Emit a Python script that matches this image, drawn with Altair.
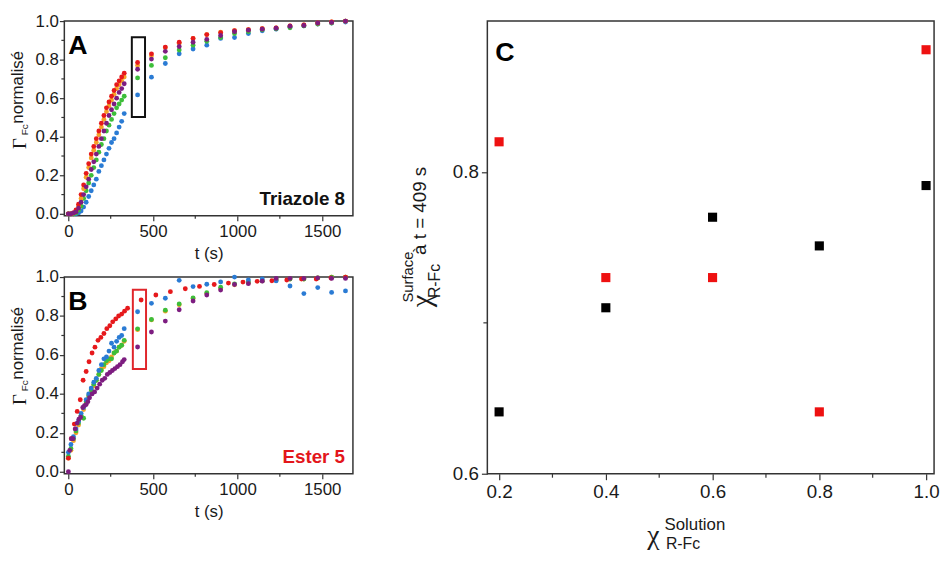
import altair as alt
import pandas as pd

FONT = "Liberation Sans"
SERIF = "Liberation Serif"
INK = "#1a1a1a"
TICK = "#333333"

# ---------------- series definitions ----------------
SERIES = ["blue", "green", "orange", "red", "purple"]
COLORS = ["#2a7bd4", "#3dbe3a", "#f6a228", "#e6191c", "#7d1d80"]
SIZES = [24, 24, 24, 24, 52]

# sampling times (s)
t_early = [0, 15, 30, 45, 60, 75, 90, 105, 120, 135, 150, 165, 180, 195, 210, 225, 240, 255, 270, 285, 300, 315, 330]
t_late = [409, 491, 573, 655, 737, 818, 900, 982, 1064, 1146, 1228, 1310, 1392, 1474, 1556, 1638]

# ---- Panel A : Triazole 8 ----
A_red_e = [0.0, 0.0, 0.005, 0.02, 0.05, 0.10, 0.15, 0.21, 0.26, 0.31, 0.35, 0.39, 0.43, 0.47, 0.51, 0.55, 0.58, 0.61, 0.64, 0.67, 0.69, 0.71, 0.73]
A_orange_e = [0.0, 0.0, 0.005, 0.015, 0.04, 0.08, 0.13, 0.19, 0.24, 0.29, 0.33, 0.37, 0.41, 0.45, 0.49, 0.53, 0.56, 0.59, 0.62, 0.65, 0.67, 0.69, 0.71]
A_purple_e = [0.0, 0.0, 0.005, 0.01, 0.03, 0.06, 0.10, 0.14, 0.18, 0.23, 0.27, 0.31, 0.35, 0.39, 0.43, 0.47, 0.51, 0.54, 0.57, 0.60, 0.63, 0.65, 0.675]
A_green_e = [0.0, 0.0, 0.0, 0.005, 0.02, 0.04, 0.08, 0.12, 0.16, 0.20, 0.24, 0.28, 0.32, 0.36, 0.39, 0.43, 0.46, 0.49, 0.52, 0.55, 0.57, 0.59, 0.61]
A_blue_e = [0.0, 0.0, 0.0, 0.0, 0.005, 0.015, 0.035, 0.06, 0.09, 0.12, 0.15, 0.18, 0.22, 0.25, 0.28, 0.31, 0.34, 0.37, 0.39, 0.42, 0.45, 0.48, 0.52]

A_red_l = [0.785, 0.83, 0.865, 0.89, 0.91, 0.93, 0.94, 0.95, 0.955, 0.96, 0.965, 0.975, 0.98, 0.99, 0.995, 1.0]
A_orange_l = [0.77, 0.82, 0.862, 0.885, 0.91, 0.93, 0.942, 0.95, 0.955, 0.96, 0.965, 0.975, 0.98, 0.99, 0.995, 1.0]
A_purple_l = [0.75, 0.803, 0.843, 0.868, 0.89, 0.905, 0.925, 0.945, 0.953, 0.958, 0.963, 0.973, 0.977, 0.99, 0.993, 1.0]
A_green_l = [0.705, 0.77, 0.81, 0.85, 0.875, 0.895, 0.915, 0.935, 0.945, 0.955, 0.96, 0.965, 0.975, 0.985, 0.99, 1.0]
A_blue_l = [0.617, 0.709, 0.78, 0.83, 0.855, 0.875, 0.91, 0.915, 0.935, 0.95, 0.958, 0.968, 0.975, 0.985, 0.99, 0.995]

# ---- Panel B : Ester 5 ----
B_red_t = [0, 17, 35, 52, 70, 87, 105, 122, 140, 157, 175, 192, 210, 227, 245, 262, 280, 297, 315, 332, 350,
           430, 517, 603, 691, 775, 862, 946, 1032, 1116, 1203, 1291, 1378, 1465, 1552, 1638]
B_red_v = [0.07, 0.17, 0.245, 0.31, 0.37, 0.47, 0.515, 0.565, 0.61, 0.64, 0.675, 0.69, 0.71, 0.735, 0.75, 0.77, 0.785, 0.80, 0.81, 0.825, 0.84,
           0.882, 0.908, 0.925, 0.94, 0.952, 0.962, 0.969, 0.974, 0.978, 0.981, 0.985, 0.99, 0.99, 0.995, 1.0]
B_purple_t = [0, 8, 18, 28, 40, 52, 62, 72, 85, 95, 105, 115, 125, 140, 155, 170, 185, 200, 215, 230, 245, 260, 275, 290, 305, 320, 330]
B_purple_e = [0.0, 0.11, 0.17, 0.17, 0.22, 0.25, 0.27, 0.28, 0.33, 0.34, 0.345, 0.36, 0.38, 0.40, 0.41, 0.43, 0.45, 0.47, 0.48, 0.50, 0.51, 0.52, 0.53, 0.54, 0.55, 0.565, 0.576]
B_blue_e = [0.10, 0.14, 0.18, 0.22, 0.26, 0.30, 0.33, 0.37, 0.40, 0.43, 0.46, 0.48, 0.52, 0.55, 0.58, 0.59, 0.62, 0.66, 0.64, 0.67, 0.69, 0.70, 0.735]
B_green_e = [0.08, 0.12, 0.17, 0.21, 0.25, 0.29, 0.275, 0.36, 0.39, 0.42, 0.45, 0.47, 0.50, 0.52, 0.55, 0.57, 0.58, 0.58, 0.61, 0.62, 0.64, 0.65, 0.675]
B_orange_e = [0.07, 0.11, 0.16, 0.20, 0.24, 0.28, 0.32, 0.35, 0.38, 0.42, 0.44, 0.47, 0.50, 0.53, 0.54, 0.56, 0.57, 0.59, 0.61, 0.62, 0.64, 0.65, 0.67]

B_blue_l = [0.822, 0.865, 0.891, 0.983, 0.951, 0.963, 0.975, 1.0, 0.985, 0.99, 0.98, 0.954, 0.915, 0.946, 0.921, 0.929]
B_green_l = [0.734, 0.782, 0.83, 0.862, 0.893, 0.92, 0.948, 0.965, 0.975, 0.98, 0.985, 0.99, 0.99, 0.995, 1.0, 1.0]
B_orange_l = [0.73, 0.78, 0.825, 0.858, 0.89, 0.915, 0.94, 0.96, 0.97, 0.98, 0.985, 0.99, 0.99, 0.995, 1.0, 1.0]
B_purple_l = [0.641, 0.718, 0.774, 0.832, 0.877, 0.908, 0.933, 0.962, 0.966, 0.979, 0.993, 0.993, 0.993, 0.996, 0.993, 0.993]

# ---- Panel C ----
chi_solution = [0.2, 0.4, 0.6, 0.8, 1.0]
chi_surface_ester = [0.820, 0.730, 0.730, 0.641, 0.881]
chi_surface_triazole = [0.641, 0.710, 0.770, 0.751, 0.791]

# boxes around t = 409 s  (t0, t1, v0, v1)
boxA = [375, 453, 0.503, 0.916]
boxB = [381, 459, 0.528, 0.935]

# tick positions
t_major = [0, 500, 1000, 1500]
t_minor = [250, 750, 1250]
g_major = [0.0, 0.2, 0.4, 0.6, 0.8, 1.0]
g_minor = [0.1, 0.3, 0.5, 0.7, 0.9]
c_x_major = [0.2, 0.4, 0.6, 0.8, 1.0]
c_x_minor = [0.3, 0.5, 0.7, 0.9]
c_y_major = [0.6, 0.8]
c_y_minor = [0.7]


def long_frame(d, order):
    rows = []
    for s in order:
        ts, vs = d[s]
        for tt, vv in zip(ts, vs):
            rows.append({"t": tt, "v": vv, "series": s})
    return pd.DataFrame(rows)


dfA = long_frame({
    "blue": (t_early + t_late, A_blue_e + A_blue_l),
    "green": (t_early + t_late, A_green_e + A_green_l),
    "orange": (t_early + t_late, A_orange_e + A_orange_l),
    "red": (t_early + t_late, A_red_e + A_red_l),
    "purple": (t_early + t_late, A_purple_e + A_purple_l),
}, ["blue", "green", "orange", "red", "purple"])
dfB = long_frame({
    "blue": (t_early + t_late, B_blue_e + B_blue_l),
    "green": (t_early + t_late, B_green_e + B_green_l),
    "orange": (t_early + t_late, B_orange_e + B_orange_l),
    "red": (B_red_t, B_red_v),
    "purple": (B_purple_t + t_late, B_purple_e + B_purple_l),
}, ["orange", "green", "blue", "red", "purple"])

ONE = pd.DataFrame({"k": [0]})


def label(txt, x, y, size, angle=0, font=FONT, weight="normal", color=INK,
          align="center", baseline="middle", opacity=1):
    return alt.Chart(ONE).mark_text(
        text=txt, fontSize=size, angle=angle, font=font, fontWeight=weight,
        color=color, align=align, baseline=baseline, opacity=opacity
    ).encode(x=alt.value(x), y=alt.value(y))


def minor_x(vals, height, length, scale, axis):
    return alt.Chart(pd.DataFrame({"m": vals})).mark_rule(color=TICK, strokeWidth=1.2).encode(
        x=alt.X("m:Q", scale=scale, axis=axis), y=alt.value(height), y2=alt.value(height + length))


def minor_y(vals, length, scale, axis):
    return alt.Chart(pd.DataFrame({"m": vals})).mark_rule(color=TICK, strokeWidth=1.2).encode(
        y=alt.Y("m:Q", scale=scale, axis=axis), x=alt.value(0), x2=alt.value(-length))


def kinetics(df, box, box_color, letter, name, name_color, height):
    sx = alt.Scale(domain=[-24, 1682], nice=False, zero=False)
    sy = alt.Scale(domain=[-0.01, 1.0], nice=False, zero=False)
    ax = alt.Axis(values=t_major, format="d", title="t (s)", labelOverlap=False,
                  tickSize=5, labelPadding=3, titlePadding=6)
    ay = alt.Axis(values=g_major, format=".1f", labelOverlap=False,
                  tickSize=5, labelPadding=1, title=None)
    pts = alt.Chart(df).mark_circle(opacity=1).encode(
        x=alt.X("t:Q", scale=sx, axis=ax), y=alt.Y("v:Q", scale=sy, axis=ay),
        color=alt.Color("series:N", scale=alt.Scale(domain=SERIES, range=COLORS), legend=None),
        size=alt.Size("series:N", scale=alt.Scale(domain=SERIES, range=SIZES), legend=None),
    )
    bdf = pd.DataFrame({"t0": [box[0]], "t1": [box[1]], "v0": [box[2]], "v1": [box[3]]})
    rect = alt.Chart(bdf).mark_rect(fillOpacity=0, stroke=box_color, strokeWidth=2).encode(
        x=alt.X("t0:Q", scale=sx, axis=ax), x2="t1:Q",
        y=alt.Y("v0:Q", scale=sy, axis=ay), y2="v1:Q")
    layers = [
        pts, rect,
        minor_x(t_minor, height, 3, sx, ax), minor_y(g_minor, 3, sy, ay),
        label(letter, 4, 33, 27, weight="bold", align="left", baseline="alphabetic", color="#000"),
        label(name, 284, height - 11, 19, weight="bold", align="right", baseline="alphabetic", color=name_color),
        label("\u0393", -45, 124, 19, angle=270, font=SERIF),
        label("Fc", -40, 110, 10, angle=270),
        label("normalisé", -47, 67, 17, angle=270),
    ]
    return alt.layer(*layers).properties(width=292, height=height)


panelA = kinetics(dfA, boxA, "#111111", "A", "Triazole 8", "#111111", 197)
panelB = kinetics(dfB, boxB, "#e0262b", "B", "Ester 5", "#e3161b", 199)

# ---- panel C ----
dfEster = pd.DataFrame({"chi": chi_solution, "val": chi_surface_ester})
dfTriazole = pd.DataFrame({"chi": chi_solution, "val": chi_surface_triazole})
scx = alt.Scale(domain=[0.178, 1.015], nice=False, zero=False)
scy = alt.Scale(domain=[0.6, 0.9], nice=False, zero=False)
acx = alt.Axis(values=c_x_major, format=".1f", labelOverlap=False,
               tickSize=6, labelPadding=3, labelFontSize=19, title=None)
acy = alt.Axis(values=c_y_major, format=".1f", labelOverlap=False,
               tickSize=6, labelPadding=3, labelFontSize=19, title=None)
sqEster = alt.Chart(dfEster).mark_square(size=85, opacity=1, color="#ee1111").encode(
    x=alt.X("chi:Q", scale=scx, axis=acx), y=alt.Y("val:Q", scale=scy, axis=acy))
sqTriazole = alt.Chart(dfTriazole).mark_square(size=85, opacity=1, color="#000000").encode(
    x=alt.X("chi:Q", scale=scx, axis=acx), y=alt.Y("val:Q", scale=scy, axis=acy))
panelC = alt.layer(
    sqEster, sqTriazole,
    minor_x(c_x_minor, 458, 4, scx, acx), minor_y(c_y_minor, 4, scy, acy),
    label("0.9", -20, 0, 15, opacity=0),
    label("C", 8, 40, 27, weight="bold", align="left", baseline="alphabetic", color="#000"),
    # y title pieces
    label("\u03c7", -66, 283, 29, angle=270, font=SERIF),
    label("Surface", -80, 259, 15, angle=270),
    label("R-Fc", -53, 263, 16, angle=270),
    label("à t = 409 s", -68, 192, 19, angle=270),
    # x title pieces
    label("\u03c7", 168, 521, 28, font=SERIF),
    label("Solution", 210, 510, 17),
    label("R-Fc", 198, 529, 16),
).properties(width=452, height=458)

left = alt.vconcat(panelA, panelB, spacing=5)
chart = alt.hconcat(left, panelC, spacing=47).properties(
    padding={"left": 0, "top": 0, "right": 0, "bottom": 0}
).configure(font=FONT).configure_view(
    stroke="#333333", strokeWidth=1.5
).configure_axis(
    domain=False, grid=False, tickColor=TICK, tickWidth=1.2,
    labelFont=FONT, labelFontSize=17, labelColor=INK,
    titleFont=FONT, titleFontSize=17, titleFontWeight="normal", titleColor=INK,
)

chart.save("out.html", embed_options={"renderer": "svg", "actions": False})
